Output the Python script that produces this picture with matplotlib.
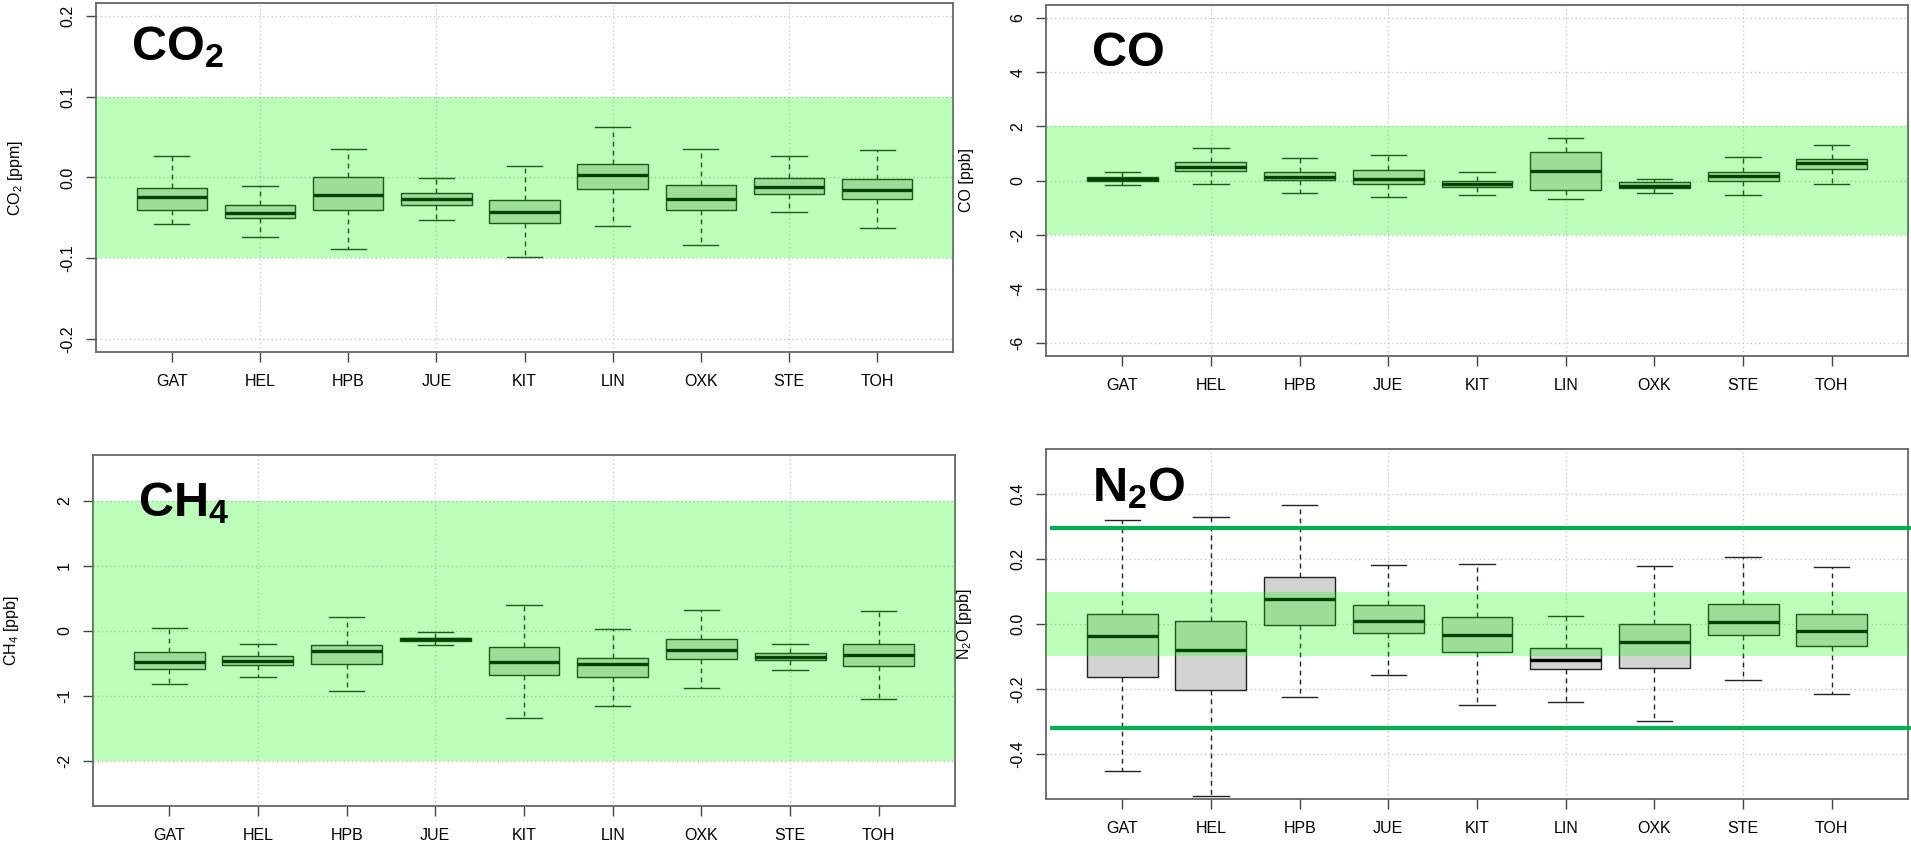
import matplotlib
matplotlib.use("Agg")
import matplotlib.pyplot as plt

plt.rcParams["font.family"] = ["Liberation Sans", "DejaVu Sans"]
plt.rcParams["mathtext.fontset"] = "custom"
plt.rcParams["mathtext.rm"] = "Liberation Sans"
plt.rcParams["mathtext.it"] = "Liberation Sans:italic"
plt.rcParams["mathtext.bf"] = "Liberation Sans:bold"
plt.rcParams["axes.unicode_minus"] = False

stations = ["GAT", "HEL", "HPB", "JUE", "KIT", "LIN", "OXK", "STE", "TOH"]

# CO2 differences [ppm]: whisker ends, quartiles and medians per station
co2_lo  = [-0.057, -0.074, -0.088, -0.052, -0.099, -0.060, -0.084, -0.043, -0.062]
co2_q1  = [-0.040, -0.050, -0.040, -0.034, -0.056, -0.014, -0.040, -0.020, -0.026]
co2_med = [-0.024, -0.044, -0.022, -0.027, -0.043,  0.003, -0.026, -0.012, -0.015]
co2_q3  = [-0.013, -0.034,  0.000, -0.019, -0.028,  0.017, -0.009, -0.001, -0.002]
co2_hi  = [ 0.027, -0.011,  0.035, -0.001,  0.014,  0.063,  0.035,  0.027,  0.034]

# CO differences [ppb]
co_lo  = [-0.17, -0.14, -0.46, -0.60, -0.54, -0.68, -0.46, -0.53, -0.12]
co_q1  = [ 0.00,  0.35,  0.01, -0.14, -0.25, -0.36, -0.27, -0.01,  0.41]
co_med = [ 0.07,  0.51,  0.12,  0.05, -0.12,  0.36, -0.19,  0.16,  0.63]
co_q3  = [ 0.14,  0.68,  0.32,  0.38,  0.00,  1.07, -0.07,  0.32,  0.78]
co_hi  = [ 0.32,  1.19,  0.82,  0.94,  0.31,  1.58,  0.04,  0.86,  1.31]

# CH4 differences [ppb]
ch4_lo  = [-0.83, -0.72, -0.93, -0.23, -1.34, -1.16, -0.89, -0.60, -1.06]
ch4_q1  = [-0.59, -0.53, -0.51, -0.16, -0.69, -0.72, -0.44, -0.45, -0.55]
ch4_med = [-0.49, -0.47, -0.31, -0.13, -0.48, -0.51, -0.30, -0.40, -0.37]
ch4_q3  = [-0.33, -0.39, -0.22, -0.11, -0.26, -0.43, -0.13, -0.34, -0.21]
ch4_hi  = [ 0.04, -0.20,  0.21, -0.03,  0.39,  0.02,  0.32, -0.20,  0.30]

# N2O differences [ppb]
n2o_lo  = [-0.453, -0.529, -0.225, -0.157, -0.251, -0.239, -0.300, -0.174, -0.215]
n2o_q1  = [-0.162, -0.204, -0.004, -0.028, -0.087, -0.140, -0.135, -0.034, -0.069]
n2o_med = [-0.037, -0.080,  0.077,  0.009, -0.033, -0.110, -0.054,  0.005, -0.022]
n2o_q3  = [ 0.032,  0.010,  0.144,  0.059,  0.023, -0.075,  0.001,  0.062,  0.030]
n2o_hi  = [ 0.319,  0.331,  0.365,  0.183,  0.185,  0.026,  0.180,  0.206,  0.176]

# compatibility goals (shaded) and extended limits for N2O (lines)
co2_goal = 0.1
co_goal = 2.0
ch4_goal = 2.0
n2o_goal = 0.1
n2o_ext = [0.295, -0.32]

FIG_W, FIG_H = 1911, 850
fig = plt.figure(figsize=(FIG_W / 100, FIG_H / 100), dpi=100)


def px_axes(x0, y0, x1, y1):
    return fig.add_axes([x0 / FIG_W, 1 - y1 / FIG_H, (x1 - x0) / FIG_W, (y1 - y0) / FIG_H])


def panel(ax, lo, q1, med, q3, hi, goal, ylim, yticks, ylabels, ylabel,
          title, title_x, title_y):
    pos = list(range(1, len(stations) + 1))
    ax.set_xlim(0.14, 9.86)
    ax.set_ylim(-ylim, ylim)

    # dotted grid
    for yt in yticks:
        ax.axhline(yt, color="#c8c8c8", lw=1.0, ls=(0, (1, 2)), zorder=1)
    for xt in (2, 4, 6, 8):
        ax.axvline(xt, color="#c8c8c8", lw=1.0, ls=(0, (1, 2)), zorder=1)

    stats = [dict(whislo=a, q1=b, med=c, q3=d, whishi=e, fliers=[])
             for a, b, c, d, e in zip(lo, q1, med, q3, hi)]
    ax.bxp(stats, positions=pos, widths=0.8, capwidths=0.4, patch_artist=True,
           showfliers=False, manage_ticks=False,
           boxprops=dict(facecolor="#d3d3d3", edgecolor="#222222", linewidth=1.0),
           medianprops=dict(color="black", linewidth=2.4, solid_capstyle="butt"),
           whiskerprops=dict(color="#222222", linewidth=1.0, linestyle=(0, (3.5, 3))),
           capprops=dict(color="#222222", linewidth=1.0))

    # translucent green band over the goal range
    ax.axhspan(-goal, goal, facecolor=(0.0, 1.0, 0.0), alpha=0.267, lw=0, zorder=3)

    ax.set_xticks(pos)
    ax.set_xticklabels(stations, fontsize=11.5)
    ax.set_yticks(yticks)
    ax.set_yticklabels(ylabels, fontsize=11.5, rotation=90, va="center")
    ax.tick_params(axis="both", length=7, width=1.0, color="#444444", direction="out")
    ax.tick_params(axis="x", pad=8.5)
    ax.tick_params(axis="y", pad=8)
    ax.set_ylabel(ylabel, fontsize=11.5)
    ax.yaxis.set_label_coords(-0.083, 0.5)
    for s in ax.spines.values():
        s.set_color("#666666")
        s.set_linewidth(1.3)

    ax.text(title_x, title_y, title, transform=ax.transAxes, fontsize=35,
            fontweight="bold", ha="left", va="baseline", zorder=6)


ax1 = px_axes(96, 3, 953, 352)
panel(ax1, co2_lo, co2_q1, co2_med, co2_q3, co2_hi, co2_goal, 0.216,
      [-0.2, -0.1, 0.0, 0.1, 0.2], ["-0.2", "-0.1", "0.0", "0.1", "0.2"],
      r"CO$_2$ [ppm]", r"$\mathbf{CO_2}$", 0.041, 0.837)

ax2 = px_axes(1046, 5, 1908, 356)
panel(ax2, co_lo, co_q1, co_med, co_q3, co_hi, co_goal, 6.48,
      [-6, -4, -2, 0, 2, 4, 6], ["-6", "-4", "-2", "0", "2", "4", "6"],
      "CO [ppb]", "CO", 0.053, 0.825)

ax3 = px_axes(93, 455, 955, 806)
panel(ax3, ch4_lo, ch4_q1, ch4_med, ch4_q3, ch4_hi, ch4_goal, 2.7,
      [-2, -1, 0, 1, 2], ["-2", "-1", "0", "1", "2"],
      r"CH$_4$ [ppb]", r"$\mathbf{CH_4}$", 0.052, 0.8255)

ax4 = px_axes(1046, 449, 1908, 799)
panel(ax4, n2o_lo, n2o_q1, n2o_med, n2o_q3, n2o_hi, n2o_goal, 0.539,
      [-0.4, -0.2, 0.0, 0.2, 0.4], ["-0.4", "-0.2", "0.0", "0.2", "0.4"],
      r"N$_2$O [ppb]", r"$\mathbf{N_2O}$", 0.053, 0.852)
for yv in n2o_ext:
    ax4.plot([0.19, 10.6], [yv, yv], color="#00b050", lw=3.0, clip_on=False,
             zorder=5, solid_capstyle="butt")

fig.savefig("out.png", dpi=100)
